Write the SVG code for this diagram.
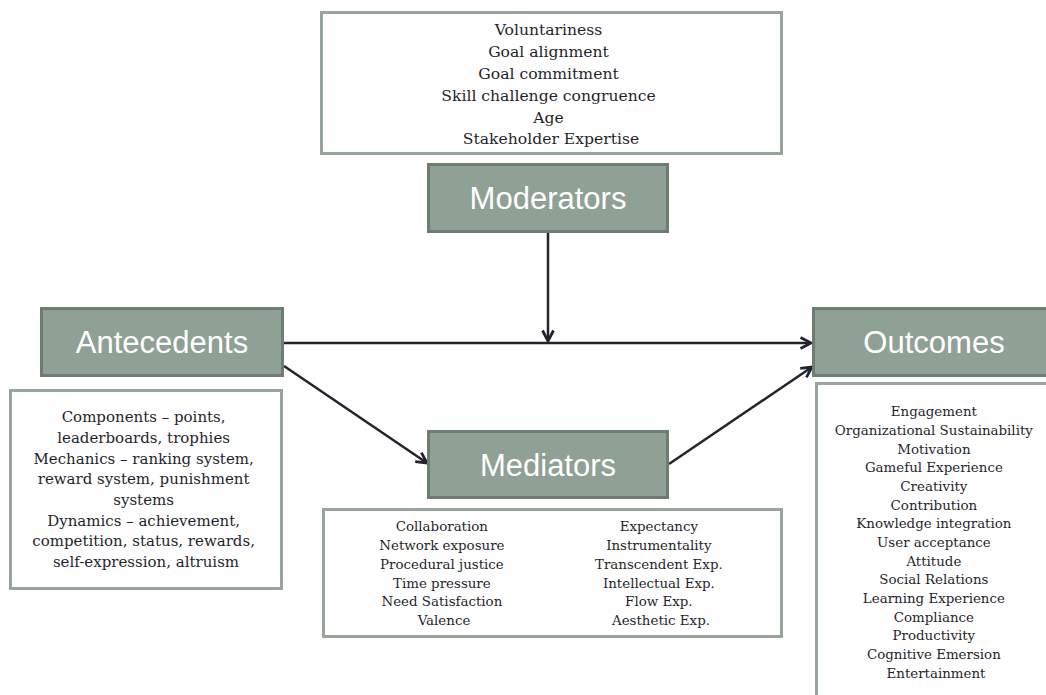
<svg xmlns="http://www.w3.org/2000/svg" width="1046" height="695" viewBox="0 0 1046 695">
<defs>
<style>
.hdr{fill:#8fa094;stroke:#6e7d72;stroke-width:3}
.hdrt{font-family:"Liberation Sans",Arial,sans-serif;font-size:31px;fill:#ffffff;text-anchor:middle}
.box{fill:#ffffff;stroke:#97a59b;stroke-width:3}
.t{font-family:"DejaVu Serif","Liberation Serif",serif;fill:#1f1f2e;text-anchor:middle}
.conn{stroke:#23232d;stroke-width:2.5;fill:none}
</style>
<marker id="arr" viewBox="0 0 14 14" refX="12" refY="7" markerWidth="14" markerHeight="14" markerUnits="userSpaceOnUse" orient="auto">
<path d="M1.5,1.5 L12,7 L1.5,12.5" fill="none" stroke="#23232d" stroke-width="2.8"/>
</marker>
</defs>
<rect width="1046" height="695" fill="#ffffff"/>
<g id="connectors">
<line class="conn" x1="283" y1="343" x2="811" y2="343" marker-end="url(#arr)"/>
<line class="conn" x1="548" y1="232" x2="548" y2="341" marker-end="url(#arr)"/>
<line class="conn" x1="284" y1="366" x2="427" y2="463" marker-end="url(#arr)"/>
<line class="conn" x1="669" y1="464" x2="812" y2="367" marker-end="url(#arr)"/>
</g>
<g id="moderators-list">
<rect class="box" x="321.5" y="12.5" width="460" height="141"/>
<text class="t" font-size="15.6">
<tspan x="551" y="35">Voluntariness</tspan>
<tspan x="551" y="57">Goal alignment</tspan>
<tspan x="551" y="79">Goal commitment</tspan>
<tspan x="551" y="101">Skill challenge congruence</tspan>
<tspan x="551" y="123">Age</tspan>
<tspan x="551" y="144">Stakeholder Expertise</tspan>
</text>
</g>
<g id="moderators">
<rect class="hdr" x="428.5" y="164.5" width="239" height="67"/>
<text class="hdrt" x="548" y="209">Moderators</text>
</g>
<g id="antecedents">
<rect class="hdr" x="41.5" y="308.5" width="241" height="67"/>
<text class="hdrt" x="162" y="353">Antecedents</text>
</g>
<g id="antecedents-list">
<rect class="box" x="10.5" y="390.5" width="271" height="198"/>
<text class="t" font-size="15">
<tspan x="146" y="422">Components – points,</tspan>
<tspan x="146" y="443">leaderboards, trophies</tspan>
<tspan x="146" y="464">Mechanics – ranking system,</tspan>
<tspan x="146" y="484">reward system, punishment</tspan>
<tspan x="146" y="505">systems</tspan>
<tspan x="146" y="526">Dynamics – achievement,</tspan>
<tspan x="146" y="546">competition, status, rewards,</tspan>
<tspan x="146" y="567">self-expression, altruism</tspan>
</text>
</g>
<g id="mediators">
<rect class="hdr" x="428.5" y="431.5" width="239" height="66"/>
<text class="hdrt" x="548" y="476">Mediators</text>
</g>
<g id="mediators-list">
<rect class="box" x="323.5" y="509.5" width="458" height="127"/>
<text class="t" font-size="13.4">
<tspan x="444" y="531">Collaboration</tspan>
<tspan x="444" y="550">Network exposure</tspan>
<tspan x="444" y="569">Procedural justice</tspan>
<tspan x="444" y="588">Time pressure</tspan>
<tspan x="444" y="606">Need Satisfaction</tspan>
<tspan x="444" y="625">Valence</tspan>
</text>
<text class="t" font-size="13.4">
<tspan x="661" y="531">Expectancy</tspan>
<tspan x="661" y="550">Instrumentality</tspan>
<tspan x="661" y="569">Transcendent Exp.</tspan>
<tspan x="661" y="588">Intellectual Exp.</tspan>
<tspan x="661" y="606">Flow Exp.</tspan>
<tspan x="661" y="625">Aesthetic Exp.</tspan>
</text>
</g>
<g id="outcomes">
<rect class="hdr" x="813.5" y="308.5" width="240" height="67"/>
<text class="hdrt" x="934" y="353">Outcomes</text>
</g>
<g id="outcomes-list">
<rect class="box" x="816.5" y="383.5" width="240" height="320"/>
<text class="t" font-size="13.4">
<tspan x="936" y="416">Engagement</tspan>
<tspan x="936" y="435">Organizational Sustainability</tspan>
<tspan x="936" y="454">Motivation</tspan>
<tspan x="936" y="472">Gameful Experience</tspan>
<tspan x="936" y="491">Creativity</tspan>
<tspan x="936" y="510">Contribution</tspan>
<tspan x="936" y="528">Knowledge integration</tspan>
<tspan x="936" y="547">User acceptance</tspan>
<tspan x="936" y="566">Attitude</tspan>
<tspan x="936" y="584">Social Relations</tspan>
<tspan x="936" y="603">Learning Experience</tspan>
<tspan x="936" y="622">Compliance</tspan>
<tspan x="936" y="640">Productivity</tspan>
<tspan x="936" y="659">Cognitive Emersion</tspan>
<tspan x="936" y="678">Entertainment</tspan>
</text>
</g>
</svg>
